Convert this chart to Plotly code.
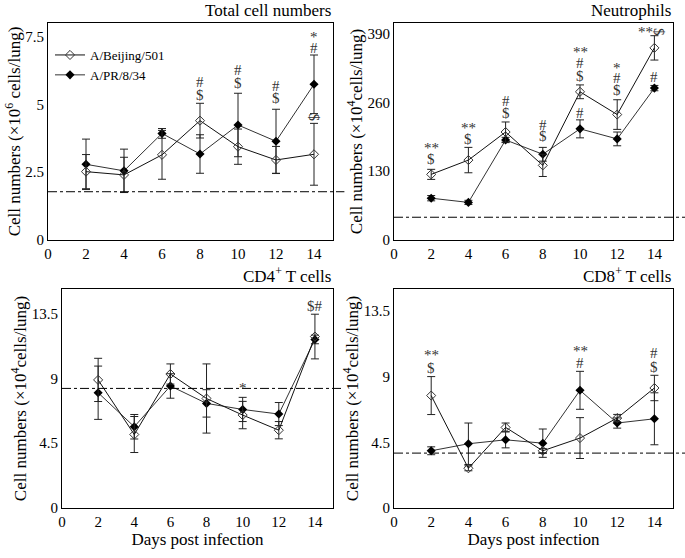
import plotly.graph_objects as go

days = [2, 4, 6, 8, 10, 12, 14]

# Total cell numbers (x10^6 cells/lung)
total_bj = [2.52, 2.40, 3.14, 4.40, 3.44, 2.95, 3.16]
total_bj_err = [0.63, 0.65, 0.90, 0.64, 0.65, 0.50, 1.14]
total_pr = [2.79, 2.55, 3.93, 3.17, 4.24, 3.64, 5.74]
total_pr_err = [0.93, 0.80, 0.18, 0.71, 1.17, 1.18, 1.08]

# Neutrophils (x10^4 cells/lung)
neut_bj = [124, 151, 204, 141, 280, 237, 363]
neut_bj_err = [9.5, 24, 19, 21, 13, 28, 23]
neut_pr = [79, 71, 189, 162, 210, 191, 287]
neut_pr_err = [5, 4, 5, 13, 17, 13, 5]

# CD4+ T cells (x10^4 cells/lung)
cd4_bj = [8.89, 5.10, 9.30, 7.60, 6.45, 5.40, 11.9]
cd4_bj_err = [1.50, 1.25, 0.70, 2.40, 0.95, 0.60, 1.55]
cd4_pr = [8.00, 5.64, 8.47, 7.26, 6.84, 6.52, 11.7]
cd4_pr_err = [1.85, 0.85, 0.85, 0.95, 0.84, 0.80, 0.30]

# CD8+ T cells (x10^4 cells/lung)
cd8_bj = [7.70, 2.72, 5.52, 3.92, 4.79, 6.16, 8.22]
cd8_bj_err = [1.30, 0.17, 0.30, 0.15, 1.40, 0.25, 0.87]
cd8_pr = [3.92, 4.40, 4.67, 4.44, 8.06, 5.82, 6.11]
cd8_pr_err = [0.27, 1.42, 0.55, 0.97, 1.30, 0.35, 1.78]

# uninfected baseline
baseline = [1.78, 43, 8.3, 3.76]

titles = ["Total cell numbers", "Neutrophils", "CD4<sup>+</sup> T cells", "CD8<sup>+</sup> T cells"]
ytitles = ["Cell numbers (×10<sup>6</sup> cells/lung)", "Cell numbers (×10<sup>4</sup>cells/lung)",
           "Cell numbers (×10<sup>4</sup>cells/lung)", "Cell numbers (×10<sup>4</sup>cells/lung)"]
yticks = [[0, 2.5, 5, 7.5], [0, 130, 260, 390], [0, 4.5, 9, 13.5], [0, 4.5, 9, 13.5]]
ytext = [["0", "2.5", "5", "7.5"], ["0", "130", "260", "390"],
         ["0", "4.5", "9", "13.5"], ["0", "4.5", "9", "13.5"]]
yranges = [[0, 8], [0, 410], [0, 15.2], [0, 15]]

D = "&#36;"  # dollar sign, kept away from mathjax
# significance marks: (panel, day, value, text, angle)
marks = [
    (0, 8, 5.84, "#", 0), (0, 8, 5.35, D, 0),
    (0, 10, 6.27, "#", 0), (0, 10, 5.78, D, 0),
    (0, 12, 5.68, "#", 0), (0, 12, 5.22, D, 0),
    (0, 14, 7.50, "*", 0), (0, 14, 7.07, "#", 0), (0, 14, 4.52, D, 90),
    (1, 2, 173, "**", 0), (1, 2, 153, D, 0),
    (1, 4, 211, "**", 0), (1, 4, 190, D, 0),
    (1, 6, 262, "#", 0), (1, 6, 240, D, 0),
    (1, 8, 218, "#", 0), (1, 8, 196, D, 0),
    (1, 10, 355, "**", 0), (1, 10, 334, "#", 0), (1, 10, 310, D, 0), (1, 10, 240, "#", 0),
    (1, 12, 325, "*", 0), (1, 12, 306, "#", 0), (1, 12, 283, D, 0),
    (1, 13.5, 393, "**", 0), (1, 14.25, 393, D, 90), (1, 14, 308, "#", 0),
    (2, 10, 8.3, "*", 0), (2, 14, 14.0, D + "#", 0),
    (3, 2, 10.5, "**", 0), (3, 2, 9.6, D, 0),
    (3, 10, 10.74, "**", 0), (3, 10, 9.94, "#", 0),
    (3, 14, 10.6, "#", 0), (3, 14, 9.66, D, 0),
]

W, H = 685, 558
boxes = [(48, 333, 23, 240), (394, 673, 23, 240), (62, 333, 289, 508), (394, 673, 289, 508)]

data = [(total_bj, total_bj_err, total_pr, total_pr_err),
        (neut_bj, neut_bj_err, neut_pr, neut_pr_err),
        (cd4_bj, cd4_bj_err, cd4_pr, cd4_pr_err),
        (cd8_bj, cd8_bj_err, cd8_pr, cd8_pr_err)]

font = "Liberation Serif, Times New Roman, serif"
fig = go.Figure()
layout = {}

for i, (bj, bje, pr, pre) in enumerate(data):
    n = "" if i == 0 else str(i + 1)
    xa, ya = "x" + n, "y" + n
    fig.add_trace(go.Scatter(x=days, y=pr, mode="lines+markers", name="A/PR/8/34",
                             xaxis=xa, yaxis=ya, showlegend=(i == 0),
                             line=dict(color="#333", width=1),
                             marker=dict(symbol="diamond", size=7, color="black"),
                             error_y=dict(type="data", array=pre, color="#222", thickness=1, width=4)))
    fig.add_trace(go.Scatter(x=days, y=bj, mode="lines+markers", name="A/Beijing/501",
                             xaxis=xa, yaxis=ya, showlegend=(i == 0),
                             line=dict(color="#111", width=1),
                             marker=dict(symbol="diamond-open", size=7, color="#333",
                                         line=dict(width=1)),
                             error_y=dict(type="data", array=bje, color="#222", thickness=1, width=4)))
    x0, x1, y0, y1 = boxes[i]
    layout["xaxis" + n] = dict(domain=[x0 / W, x1 / W], range=[0, 15], anchor=ya,
                               tickvals=[0, 2, 4, 6, 8, 10, 12, 14], ticks="",
                               showline=True, mirror=True, linecolor="black", linewidth=1,
                               showgrid=False, zeroline=False,
                               tickfont=dict(family=font, size=15, color="black"),
                               title=dict(text="Days post infection" if i >= 2 else "",
                                          font=dict(family=font, size=17, color="black"),
                                          standoff=2))
    layout["yaxis" + n] = dict(domain=[1 - y1 / H, 1 - y0 / H], range=yranges[i], anchor=xa,
                               tickvals=yticks[i], ticktext=ytext[i], ticks="",
                               showline=True, mirror=True, linecolor="black", linewidth=1,
                               showgrid=False, zeroline=False,
                               tickfont=dict(family=font, size=15, color="black"),
                               title=dict(text=ytitles[i], standoff=0,
                                          font=dict(family=font, size=17, color="black")))
    fig.add_shape(type="line", xref=xa + " domain", yref=ya, x0=0, x1=(W - x0) / (x1 - x0) if i % 2 else 1.04,
                  y0=baseline[i], y1=baseline[i],
                  line=dict(color="black", width=1, dash="dashdot"))
    fig.add_annotation(text=titles[i], xref=xa + " domain", yref=ya + " domain", x=1, y=1,
                       xanchor="right", yanchor="bottom", yshift=1, showarrow=False,
                       font=dict(family=font, size=17, color="black"))

for p, d, v, t, a in marks:
    n = "" if p == 0 else str(p + 1)
    fig.add_annotation(text=t, x=d, y=v, xref="x" + n, yref="y" + n, showarrow=False,
                       textangle=a, font=dict(family=font, size=15, color="#333"))

fig.update_layout(**layout)
fig.update_layout(width=W, height=H, margin=dict(l=0, r=0, t=0, b=0, autoexpand=False),
                  plot_bgcolor="white", paper_bgcolor="white",
                  legend=dict(x=50 / W, y=1 - 40 / H, xanchor="left", yanchor="top",
                              traceorder="reversed", bgcolor="rgba(0,0,0,0)",
                              font=dict(family=font, size=13, color="black"),
                              itemwidth=30, tracegroupgap=0),
                  )
# page body margin would shift the figure by 8px
fig.write_html("out.html", config={"displayModeBar": False},
               post_script="document.body.style.margin='0';")
